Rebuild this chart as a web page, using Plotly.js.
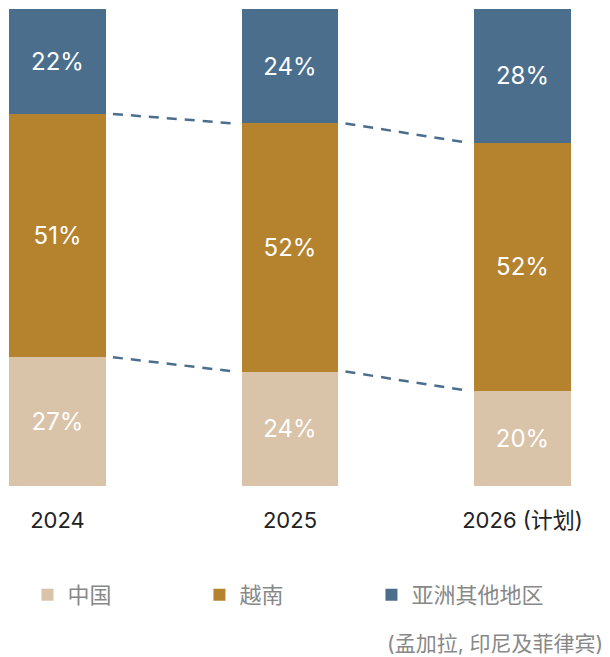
<!DOCTYPE html>
<html>
<head>
<meta charset="utf-8">
<script src="https://cdn.plot.ly/plotly-3.0.1.min.js"></script>
<style>html,body{margin:0;padding:0;background:#fff;}#chart{width:610px;height:657px;}</style>
</head>
<body>
<div id="chart"></div>
<script>
const years = [0, 1, 2];
const yearLabels = ['2024', '2025', '2026 (计划)'];
const seriesNames = ['中国', '越南', '亚洲其他地区'];
const china = [27, 24, 20];
const vietnam = [51, 52, 52];
const restAsia = [22, 24, 28];
const note = '(孟加拉, 印尼及菲律宾)';

const colors = ['#d9c3a9', '#b5822e', '#4b6e8d'];
const font = 'Inter, "Noto Sans CJK SC", sans-serif';
const barWidth = 0.417;

const series = [china, vietnam, restAsia];
const traces = series.map((vals, i) => ({
  type: 'bar',
  x: years,
  y: vals,
  name: seriesNames[i],
  width: barWidth,
  marker: {color: colors[i], line: {width: 0}},
  text: vals.map(v => v + '%'),
  textposition: 'inside',
  insidetextanchor: 'middle',
  constraintext: 'none',
  textfont: {color: '#ffffff', size: 24, family: font},
  hoverinfo: 'skip'
}));

// dashed connectors between stack boundaries
const cum1 = china;
const cum2 = china.map((v, i) => v + vietnam[i]);
const off = 0.03;
[cum1, cum2].forEach(cum => {
  for (let i = 0; i < years.length - 1; i++) {
    traces.push({
      type: 'scatter', mode: 'lines',
      x: [years[i] + barWidth / 2 + off, years[i + 1] - barWidth / 2 - off],
      y: [cum[i], cum[i + 1]],
      line: {color: '#4b6e8d', width: 2.5, dash: '10px,8px'},
      showlegend: false, hoverinfo: 'skip'
    });
  }
});

const layout = {
  width: 610, height: 657,
  margin: {l: 0, r: 0, t: 9, b: 171},
  paper_bgcolor: '#fff', plot_bgcolor: '#fff',
  barmode: 'stack', bargap: 0,
  font: {family: font},
  xaxis: {
    range: [-0.24731, 2.37634], tickvals: years, ticktext: yearLabels,
    showgrid: false, zeroline: false, showline: false, ticks: '',
    tickfont: {size: 22, color: '#222222', family: font},
    ticklabelstandoff: 19, fixedrange: true
  },
  yaxis: {range: [0, 100], visible: false, fixedrange: true},
  showlegend: true,
  legend: {
    orientation: 'h', x: 0.045, xanchor: 'left', y: -0.2285, yanchor: 'middle',
    traceorder: 'normal', entrywidth: 127, entrywidthmode: 'pixels',
    font: {size: 22, color: '#888888', family: font}, itemclick: false, itemdoubleclick: false
  },
  annotations: [{
    xref: 'paper', yref: 'paper', x: 0.992, xanchor: 'right', y: -0.33, yanchor: 'middle',
    text: note, showarrow: false, font: {size: 21, color: '#888888', family: font}
  }]
};

Plotly.newPlot('chart', traces, layout, {displayModeBar: false, staticPlot: true});
</script>
</body>
</html>
